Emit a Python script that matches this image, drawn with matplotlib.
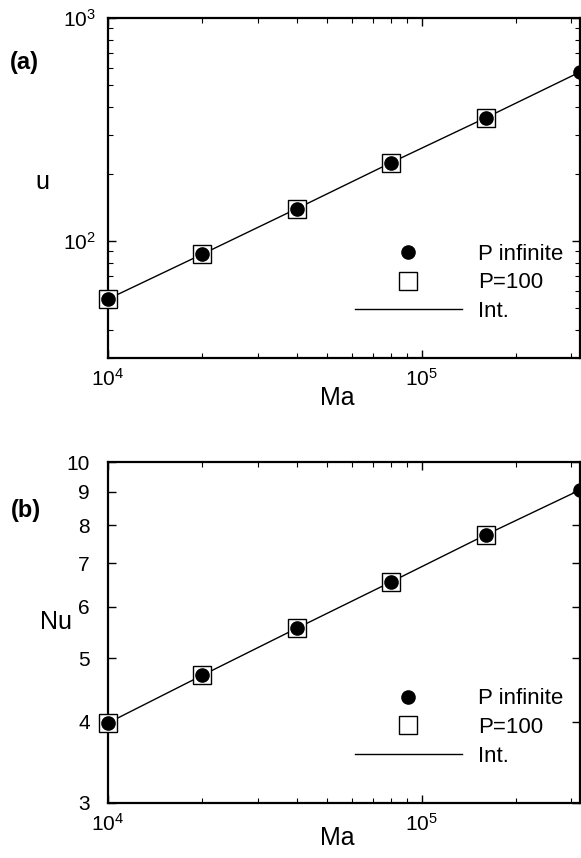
import matplotlib
matplotlib.use("Agg")
import matplotlib.pyplot as plt
from matplotlib.lines import Line2D
from matplotlib.ticker import FixedLocator, FixedFormatter, NullLocator, LogLocator, NullFormatter

plt.rcParams['font.family'] = ['Liberation Sans', 'DejaVu Sans']
plt.rcParams['mathtext.default'] = 'regular'

# Data
ma = [1e4, 2e4, 4e4, 8e4, 1.6e5, 3.2e5]
u_inf = [55.1, 87.6, 140, 225, 357, 573]
ma_p100 = [1e4, 2e4, 4e4, 8e4, 1.6e5]
u_p100 = [55.1, 87.6, 140, 225, 357]
nu_inf = [3.98, 4.71, 5.56, 6.55, 7.73, 9.06]
nu_p100 = [3.98, 4.71, 5.56, 6.55, 7.73]
labels = ['P infinite', 'P=100', 'Int.']
nu_ticks = [3, 4, 5, 6, 7, 8, 9, 10]
nu_ticklabels = ['3', '4', '5', '6', '7', '8', '9', '10']

fig = plt.figure(figsize=(5.81, 8.58), dpi=100)
ax1 = fig.add_axes([108/581, 1-358/858, 472/581, 340/858])
ax2 = fig.add_axes([108/581, 1-803/858, 472/581, 341/858])

def draw(ax, yi, yp, ma_y):
    ax.plot(ma, yi, color='black', lw=1.0, zorder=2, clip_on=False)
    ax.plot(ma_p100, yp, linestyle='none', marker='s', markersize=13,
            markerfacecolor='white', markeredgecolor='black', markeredgewidth=1.0,
            zorder=3, clip_on=False)
    ax.plot(ma, yi, linestyle='none', marker='o', markersize=9.5,
            color='black', zorder=4, clip_on=False)
    ax.set_xscale('log')
    ax.set_yscale('log')
    ax.set_xlim(1e4, 3.2e5)
    for s in ax.spines.values():
        s.set_linewidth(1.6)
    ax.tick_params(which='both', direction='in', top=True, right=True, labelsize=15)
    ax.tick_params(which='major', length=6, width=1.0, pad=7)
    ax.tick_params(which='minor', length=3.5, width=0.8)
    ax.xaxis.set_major_locator(LogLocator(base=10, numticks=10))
    ax.xaxis.set_minor_locator(LogLocator(base=10, subs=range(2, 10), numticks=20))
    ax.xaxis.set_minor_formatter(NullFormatter())
    ax.set_xlabel('Ma', fontsize=18, va='center')
    ax.xaxis.set_label_coords(0.485, ma_y)
    h = [Line2D([], [], linestyle='none', marker='o', markersize=9.5, color='black'),
         Line2D([], [], linestyle='none', marker='s', markersize=13,
                markerfacecolor='white', markeredgecolor='black', markeredgewidth=1.0),
         Line2D([], [], color='black', lw=1.0)]
    ax.legend(h, labels, loc='center', bbox_to_anchor=(0.744, 0.221), frameon=False,
              fontsize=16, handlelength=4.8, handletextpad=0.75, labelspacing=0.35,
              borderpad=0, borderaxespad=0)

draw(ax1, u_inf, u_p100, -0.118)
ax1.set_ylim(30, 1000)
ax1.yaxis.set_major_locator(LogLocator(base=10, numticks=10))
ax1.yaxis.set_minor_locator(LogLocator(base=10, subs=range(2, 10), numticks=20))
ax1.yaxis.set_minor_formatter(NullFormatter())
ax1.tick_params(axis='y', which='major', pad=9)
ax1.set_ylabel('u', fontsize=18, rotation=0, va='center', ha='center')
ax1.yaxis.set_label_coords(-0.138, 0.518)

draw(ax2, nu_inf, nu_p100, -0.103)
ax2.set_ylim(3, 10)
ax2.yaxis.set_major_locator(FixedLocator(nu_ticks))
ax2.yaxis.set_major_formatter(FixedFormatter(nu_ticklabels))
ax2.yaxis.set_minor_locator(NullLocator())
ax2.tick_params(axis='y', which='major', pad=13)
ax2.set_ylabel('Nu', fontsize=18, rotation=0, va='center', ha='center')
ax2.yaxis.set_label_coords(-0.11, 0.531)

fig.text(24/581, 1-63/858, '(a)', fontsize=17, fontweight='bold', ha='center', va='center')
fig.text(26/581, 1-510/858, '(b)', fontsize=17, fontweight='bold', ha='center', va='center')

fig.savefig('out.png', dpi=100)
